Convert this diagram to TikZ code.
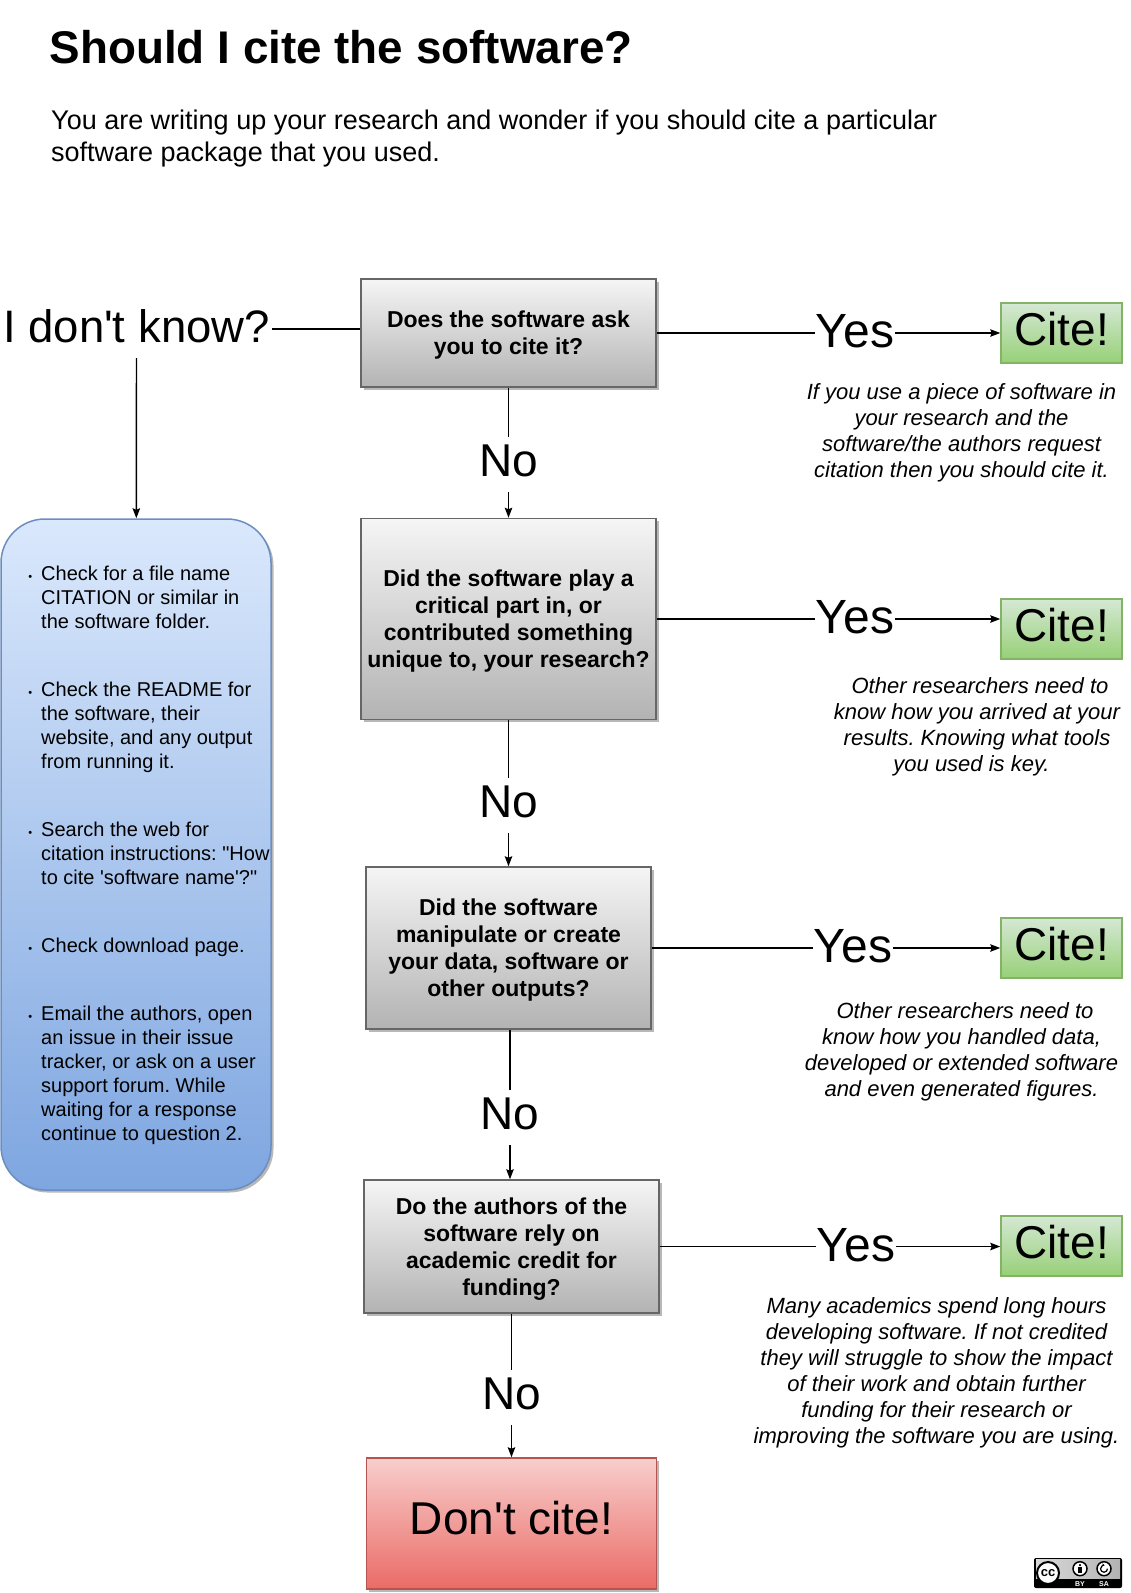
\documentclass[tikz,border=0pt]{standalone}
\usepackage{fontspec}
\setmainfont[Ligatures=TeXOff]{Liberation Sans}
\usepackage{xcolor}
\usetikzlibrary{arrows.meta, positioning, shadows}
\definecolor{greytop}{HTML}{F5F5F5}
\definecolor{greybot}{HTML}{B3B3B3}
\definecolor{greyline}{HTML}{666666}
\definecolor{bluetop}{HTML}{DAE8FC}
\definecolor{bluebot}{HTML}{7EA6E0}
\definecolor{blueline}{HTML}{6C8EBF}
\definecolor{greentop}{HTML}{D5E8D4}
\definecolor{greenbot}{HTML}{97D077}
\definecolor{greenline}{HTML}{82B366}
\definecolor{redtop}{HTML}{F8CECC}
\definecolor{redbot}{HTML}{EA6B66}
\definecolor{redline}{HTML}{B85450}
\newcommand{\qlift}{\rule{0pt}{21pt}}
\newcommand{\itemdot}{\llap{{\fontsize{11}{11}\selectfont •}\hspace{9pt}}}

\begin{document}
\frenchspacing
\begin{tikzpicture}[
    x=1pt, y=-1pt,
    flat/.style={general shadow={fill=black!28, shadow xshift=2.5pt, shadow yshift=-2.5pt}},
    question/.style={rectangle, draw=greyline, line width=1.5pt, top color=greytop, bottom color=greybot, flat, align=center, minimum width=295pt, font=\fontsize{23}{27}\selectfont\bfseries},
    answer/.style={rectangle, draw=greenline, line width=1.5pt, top color=greentop, bottom color=greenbot, minimum width=121pt, minimum height=60pt, inner sep=0pt, text depth=8pt, font=\fontsize{46}{46}\selectfont},
    stopbox/.style={rectangle, draw=redline, line width=1.5pt, top color=redtop, bottom color=redbot, flat, minimum width=290pt, minimum height=131pt, text depth=12pt, font=\fontsize{46}{46}\selectfont},
    lookup/.style={rectangle, rounded corners=44pt, draw=blueline, line width=1.5pt, top color=bluetop, bottom color=bluebot, flat, minimum width=270pt, minimum height=671pt},
    yeslabel/.style={anchor=base, inner sep=1pt, font=\fontsize{48}{48}\selectfont, text height=34pt, text depth=5pt},
    nolabel/.style={anchor=base, inner sep=1pt, font=\fontsize{46}{46}\selectfont, text height=38pt, text depth=15pt},
    note/.style={align=center, inner sep=0pt, font=\fontsize{22}{26}\selectfont\itshape},
    item/.style={anchor=north west, align=left, inner sep=0pt, font=\fontsize{20}{24}\selectfont},
    link/.style={line width=1.4pt},
    flow/.style={link, -{Stealth[length=10pt,width=7.5pt,inset=1.5pt]}},
]
\useasboundingbox (0,0) rectangle (1130,1593);

% Heading
\node[anchor=base west, inner sep=0pt, font=\fontsize{45.8}{46}\selectfont\bfseries] (title) at (49.5,63) {Should I cite the software?};
\node[anchor=north west, align=left, inner sep=0pt, font=\fontsize{27}{32}\selectfont] (intro) at (51,110) {You are writing up your research and wonder if you should cite a particular\\software package that you used.};

% Question column
\node[question, minimum height=108pt] (q1) at (508.5,333) {\qlift Does the software ask\\you to cite it?};
\node[question, minimum height=201pt] (q2) at (508.5,619) {\qlift Did the software play a\\critical part in, or\\contributed something\\unique to, your research?};
\node[question, minimum width=285pt, minimum height=162pt] (q3) at (508.5,948) {\qlift Did the software\\manipulate or create\\your data, software or\\other outputs?};
\node[question, minimum height=133pt] (q4) at (511.5,1246.5) {\qlift Do the authors of the\\software rely on\\academic credit for\\funding?};
\node[stopbox] (stop) at (511.5,1523.5) {Don't cite!};

% Left branch
\node[anchor=base, inner sep=1.5pt, text height=40.5pt, text depth=14.5pt, font=\fontsize{45.5}{46}\selectfont] (idk) at (136.5,342) {I don't know?};
\node[lookup] (help) at (136,854.5) {};
\node[item] (item1) at (41,566) {\itemdot Check for a file name\\CITATION or similar in\\the software folder.};
\node[item] (item2) at (41,682) {\itemdot Check the README for\\the software, their\\website, and any output\\from running it.};
\node[item] (item3) at (41,822) {\itemdot Search the web for\\citation instructions: "How\\to cite 'software name'?"};
\node[item] (item4) at (41,938) {\itemdot Check download page.};
\node[item] (item5) at (41,1006) {\itemdot Email the authors, open\\an issue in their issue\\tracker, or ask on a user\\support forum. While\\waiting for a response\\continue to question 2.};

% Yes branch
\node[yeslabel] (yes1) at (855,347.5) {Yes};
\node[yeslabel] (yes2) at (855,633.5) {Yes};
\node[yeslabel] (yes3) at (853,962.5) {Yes};
\node[yeslabel] (yes4) at (856,1261) {Yes};
\node[answer] (cite1) at (1061.5,333) {Cite!};
\node[answer] (cite2) at (1061.5,629) {Cite!};
\node[answer] (cite3) at (1061.5,948) {Cite!};
\node[answer] (cite4) at (1061.5,1246) {Cite!};

% No labels
\node[nolabel] (no1) at (508.5,476) {No};
\node[nolabel] (no2) at (508.5,817) {No};
\node[nolabel] (no3) at (510,1129) {No};
\node[nolabel] (no4) at (511.5,1409) {No};

% Notes
\node[note] (note1) at (961.5,433) {If you use a piece of software in\\your research and the\\software/the authors request\\citation then you should cite it.};
\node[note] (note2) at (977,727) {\hspace*{6pt}Other researchers need to\\know how you arrived at your\\results. Knowing what tools\\you used is key.\hspace*{11pt}};
\node[note] (note3) at (961.5,1052) {\hspace*{7pt}Other researchers need to\\know how you handled data,\\developed or extended software\\and even generated figures.};
\node[note] (note4) at (936.5,1373) {Many academics spend long hours\\developing software. If not credited\\they will struggle to show the impact\\of their work and obtain further\\funding for their research or\\improving the software you are using.};

% Connectors
\draw[link] (idk) -- (idk -| q1.west);
\draw[flow] (idk) -- (help);
\foreach \i/\j in {1/2, 2/3, 3/4} {
    \draw[link] (q\i.south -| no\i) -- (no\i);
    \draw[flow] (no\i) -- (no\i |- q\j.north);
}
\draw[link] (q4.south -| no4) -- (no4);
\draw[flow] (no4) -- (stop);
\foreach \i in {1,...,4} {
    \draw[link] (q\i) -- (yes\i);
    \draw[flow] (yes\i) -- (yes\i -| cite\i.west);
}

% Licence badge
\node[rectangle, fill=black, rounded corners=2pt, minimum width=88pt, minimum height=30pt, inner sep=0pt] (badge) at (1078,1573) {};
\node[rectangle, left color=white!85!black, right color=black!30, minimum width=84pt, minimum height=19pt, inner sep=0pt] (badgetop) at (1078,1569) {};
\node[circle, fill=white, draw=black, line width=2pt, minimum size=22pt, inner sep=0pt, font=\fontsize{13}{13}\selectfont\bfseries] (cc) at (1048,1573) {cc};
\node[circle, fill=white, draw=black, line width=1.5pt, minimum size=14pt, inner sep=0pt] (by) at (1080,1568.7) {};
\node[circle, fill=white, draw=black, line width=1.5pt, minimum size=14pt, inner sep=0pt] (sa) at (1104,1568.7) {};
\node[circle, fill=black, minimum size=2.5pt, inner sep=0pt] (byhead) at (1080,1565) {};
\node[rectangle, fill=black, minimum width=3.5pt, minimum height=6.5pt, inner sep=0pt] (bybody) at (1080,1570) {};
\draw[line width=1.2pt, -{Stealth[length=2.5pt,width=3pt]}] (sa) ++(3.5,0) arc[start angle=0, delta angle=-280, radius=3.5pt];
\node[text=white, inner sep=0pt, font=\fontsize{7}{7}\selectfont\bfseries] (bytext) at (1080,1584) {BY};
\node[text=white, inner sep=0pt, font=\fontsize{7}{7}\selectfont\bfseries] (satext) at (1104,1584) {SA};

\end{tikzpicture}
\end{document}
